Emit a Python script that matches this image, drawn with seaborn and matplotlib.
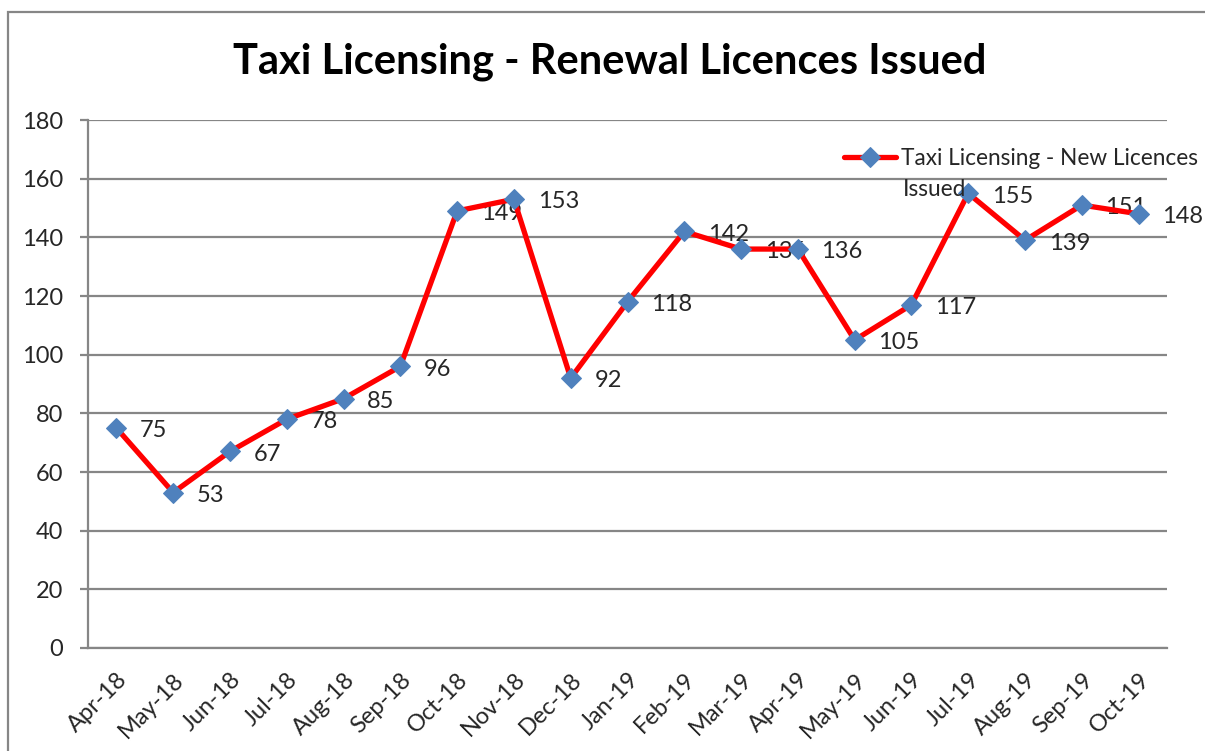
import pandas as pd
import matplotlib.pyplot as plt
import seaborn as sns
from matplotlib.patches import Rectangle

# Data
months = ["Apr-18", "May-18", "Jun-18", "Jul-18", "Aug-18", "Sep-18", "Oct-18",
          "Nov-18", "Dec-18", "Jan-19", "Feb-19", "Mar-19", "Apr-19", "May-19",
          "Jun-19", "Jul-19", "Aug-19", "Sep-19", "Oct-19"]
licences = [75, 53, 67, 78, 85, 96, 149, 153, 92, 118, 142, 136, 136, 105,
            117, 155, 139, 151, 148]
series_name = "Taxi Licensing - New Licences"
series_wrap = "Issued"
title = "Taxi Licensing - Renewal Licences Issued"
y_ticks = list(range(0, 181, 20))

sns.set_theme(style="white")
plt.rcParams['font.family'] = ['Lato', 'DejaVu Sans']

grid_col = "#868686"
text_col = "#262626"
fs = 17
legend_fs = 16.3

df = pd.DataFrame({"pos": range(len(months)), "month": months, "value": licences})

fig = plt.figure(figsize=(12.05, 7.51), dpi=100)
ax = fig.add_axes([88 / 1205, 1 - 648 / 751, (1167 - 88) / 1205, (648 - 120) / 751])

# chart border (only left and top fall inside the image)
fig.patches.append(Rectangle((8 / 1205, -0.1), 1.2, 1.1 - 12 / 751,
                             transform=fig.transFigure, fill=False,
                             edgecolor=grid_col, linewidth=1.6))

sns.lineplot(data=df, x="pos", y="value", ax=ax, color="#FF0000", linewidth=3.8,
             marker="D", markersize=10.5, markerfacecolor="#4F81BD",
             markeredgecolor="#4F81BD", label=series_name, zorder=3, sort=False)

# data labels
for i, v in zip(df["pos"], df["value"]):
    ax.annotate(str(v), (i, v), xytext=(17, -2), textcoords="offset points",
                ha="left", va="center", fontsize=fs, color=text_col, zorder=2)

ax.set_xlim(-0.5, len(months) - 0.5)
ax.set_ylim(0, 180)
ax.set_yticks(y_ticks)
ax.set_xticks(df["pos"])
ax.set_xticks([p - 0.5 for p in range(len(months) + 1)], minor=True)
ax.set_xticklabels(months, rotation=45, ha="right", rotation_mode="anchor")
ax.tick_params(axis="x", which="major", length=0, pad=15, labelsize=fs, labelcolor=text_col)
ax.tick_params(axis="x", which="minor", length=6, width=1.6, color=grid_col, direction="out")
ax.tick_params(axis="y", length=6, width=1.6, color=grid_col, direction="out",
               pad=12, labelsize=fs, labelcolor=text_col, left=True)
ax.set_xlabel("")
ax.set_ylabel("")

ax.grid(axis="y", color=grid_col, linewidth=1.6)
ax.set_axisbelow(True)
for side in ["top", "right"]:
    ax.spines[side].set_visible(False)
for side in ["left", "bottom"]:
    ax.spines[side].set_color(grid_col)
    ax.spines[side].set_linewidth(1.6)

fig.text(610 / 1205, 1 - 62 / 751, title, ha="center", va="center",
         fontsize=30, fontweight="bold", color="black")

ax.legend(loc="upper left", bbox_to_anchor=(844 / 1205, 1 - 148 / 751),
          bbox_transform=fig.transFigure, frameon=False, fontsize=legend_fs,
          handlelength=2.3, handletextpad=0.2, borderpad=0, borderaxespad=0,
          labelcolor=text_col)
fig.text(903 / 1205, 1 - 189 / 751, series_wrap, ha="left", va="center",
         fontsize=legend_fs, color=text_col)

fig.savefig("out.png", dpi=100)
